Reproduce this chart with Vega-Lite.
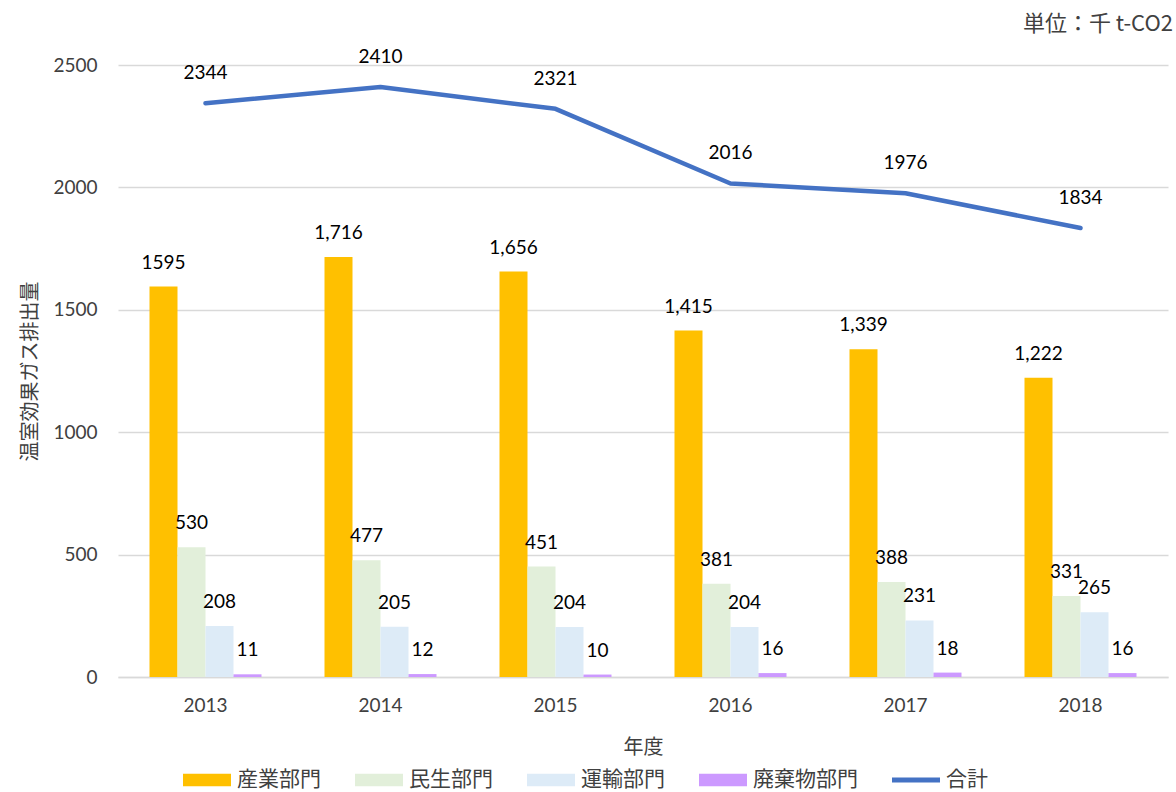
{
  "$schema": "https://vega.github.io/schema/vega-lite/v6.json",
  "width": 1050,
  "height": 612,
  "autosize": {"type": "none"},
  "padding": {"left": 118, "top": 65, "right": 8, "bottom": 115},
  "background": "white",
  "config": {
    "font": "Noto Sans CJK JP",
    "view": {"stroke": null}
  },
  "title": {
    "text": "単位：千 t-CO2",
    "anchor": "end",
    "orient": "top",
    "frame": "group",
    "offset": 12,
    "dx": 5,
    "fontSize": 22,
    "fontWeight": "normal",
    "color": "#404040",
    "font": "Noto Sans CJK JP"
  },
  "datasets": {
    "bars": [
      {"year": "2013", "series": "産業部門", "value": 1595, "label": "1595"},
      {"year": "2013", "series": "民生部門", "value": 530, "label": "530"},
      {"year": "2013", "series": "運輸部門", "value": 208, "label": "208"},
      {"year": "2013", "series": "廃棄物部門", "value": 11, "label": "11"},
      {"year": "2014", "series": "産業部門", "value": 1716, "label": "1,716"},
      {"year": "2014", "series": "民生部門", "value": 477, "label": "477"},
      {"year": "2014", "series": "運輸部門", "value": 205, "label": "205"},
      {"year": "2014", "series": "廃棄物部門", "value": 12, "label": "12"},
      {"year": "2015", "series": "産業部門", "value": 1656, "label": "1,656"},
      {"year": "2015", "series": "民生部門", "value": 451, "label": "451"},
      {"year": "2015", "series": "運輸部門", "value": 204, "label": "204"},
      {"year": "2015", "series": "廃棄物部門", "value": 10, "label": "10"},
      {"year": "2016", "series": "産業部門", "value": 1415, "label": "1,415"},
      {"year": "2016", "series": "民生部門", "value": 381, "label": "381"},
      {"year": "2016", "series": "運輸部門", "value": 204, "label": "204"},
      {"year": "2016", "series": "廃棄物部門", "value": 16, "label": "16"},
      {"year": "2017", "series": "産業部門", "value": 1339, "label": "1,339"},
      {"year": "2017", "series": "民生部門", "value": 388, "label": "388"},
      {"year": "2017", "series": "運輸部門", "value": 231, "label": "231"},
      {"year": "2017", "series": "廃棄物部門", "value": 18, "label": "18"},
      {"year": "2018", "series": "産業部門", "value": 1222, "label": "1,222"},
      {"year": "2018", "series": "民生部門", "value": 331, "label": "331"},
      {"year": "2018", "series": "運輸部門", "value": 265, "label": "265"},
      {"year": "2018", "series": "廃棄物部門", "value": 16, "label": "16"}
    ],
    "total": [
      {"year": "2013", "series": "合計", "value": 2344, "label": "2344"},
      {"year": "2014", "series": "合計", "value": 2410, "label": "2410"},
      {"year": "2015", "series": "合計", "value": 2321, "label": "2321"},
      {"year": "2016", "series": "合計", "value": 2016, "label": "2016"},
      {"year": "2017", "series": "合計", "value": 1976, "label": "1976"},
      {"year": "2018", "series": "合計", "value": 1834, "label": "1834"}
    ]
  },
  "encoding": {
    "x": {
      "field": "year",
      "type": "nominal",
      "title": "年度",
      "scale": {"paddingInner": 0.36, "paddingOuter": 0.18},
      "axis": {
        "labelAngle": 0,
        "labelFont": "Lato",
        "labelFontSize": 19,
        "labelColor": "#404040",
        "labelPadding": 19,
        "ticks": false,
        "domainColor": "#d9d9d9",
        "domainWidth": 1.5,
        "titleFont": "Noto Sans CJK JP",
        "titleFontSize": 20,
        "titleFontWeight": "normal",
        "titleColor": "#404040",
        "titlePadding": 22
      }
    },
    "y": {
      "field": "value",
      "type": "quantitative",
      "title": "温室効果ガス排出量",
      "scale": {"domain": [0, 2500]},
      "axis": {
        "values": [0, 500, 1000, 1500, 2000, 2500],
        "format": "d",
        "labelFont": "Lato",
        "labelFontSize": 19,
        "labelColor": "#404040",
        "labelPadding": 21,
        "ticks": false,
        "domain": false,
        "gridColor": "#d9d9d9",
        "gridWidth": 1.5,
        "titleFont": "Noto Sans CJK JP",
        "titleFontSize": 20,
        "titleFontWeight": "normal",
        "titleColor": "#404040",
        "titlePadding": 12
      }
    }
  },
  "layer": [
    {
      "data": {"name": "bars"},
      "mark": {"type": "bar"},
      "encoding": {
        "xOffset": {"field": "series", "type": "nominal", "sort": ["産業部門", "民生部門", "運輸部門", "廃棄物部門"]},
        "color": {
          "field": "series",
          "type": "nominal",
          "scale": {
            "domain": ["産業部門", "民生部門", "運輸部門", "廃棄物部門", "合計"],
            "range": ["#FFC000", "#E2EFDA", "#DDEBF7", "#CC99FF", "#4472C4"]
          },
          "legend": {
            "title": null,
            "orient": "none",
            "legendX": 65,
            "legendY": 691,
            "direction": "horizontal",
            "symbolSize": 2304,
            "symbolStrokeWidth": 0,
            "labelFont": "Noto Sans CJK JP",
            "labelFontSize": 21,
            "labelColor": "#404040",
            "labelOffset": 6,
            "columnPadding": 34,
            "labelLimit": 300,
            "encode": {
              "symbols": {
                "update": {
                  "shape": {"signal": "datum.value === '合計' ? 'M-1,-0.1H1V0.1H-1Z' : 'M-1,-0.26H1V0.26H-1Z'"},
                  "fill": {"scale": "color", "field": "value"},
                  "strokeWidth": {"value": 0},
                  "opacity": {"value": 1}
                }
              }
            }
          }
        }
      }
    },
    {
      "data": {"name": "bars"},
      "mark": {"type": "text", "dy": -24, "fontSize": 19, "font": "Lato", "color": "#000000", "baseline": "middle"},
      "encoding": {
        "xOffset": {"field": "series", "type": "nominal", "sort": ["産業部門", "民生部門", "運輸部門", "廃棄物部門"]},
        "text": {"field": "label", "type": "nominal"}
      }
    },
    {
      "data": {"name": "total"},
      "mark": {"type": "line", "strokeWidth": 4.5, "strokeCap": "round", "strokeJoin": "round"},
      "encoding": {
        "color": {"field": "series", "type": "nominal"}
      }
    },
    {
      "data": {"name": "total"},
      "mark": {"type": "text", "dy": -30, "fontSize": 19, "font": "Lato", "color": "#000000", "baseline": "middle"},
      "encoding": {
        "text": {"field": "label", "type": "nominal"}
      }
    }
  ]
}
